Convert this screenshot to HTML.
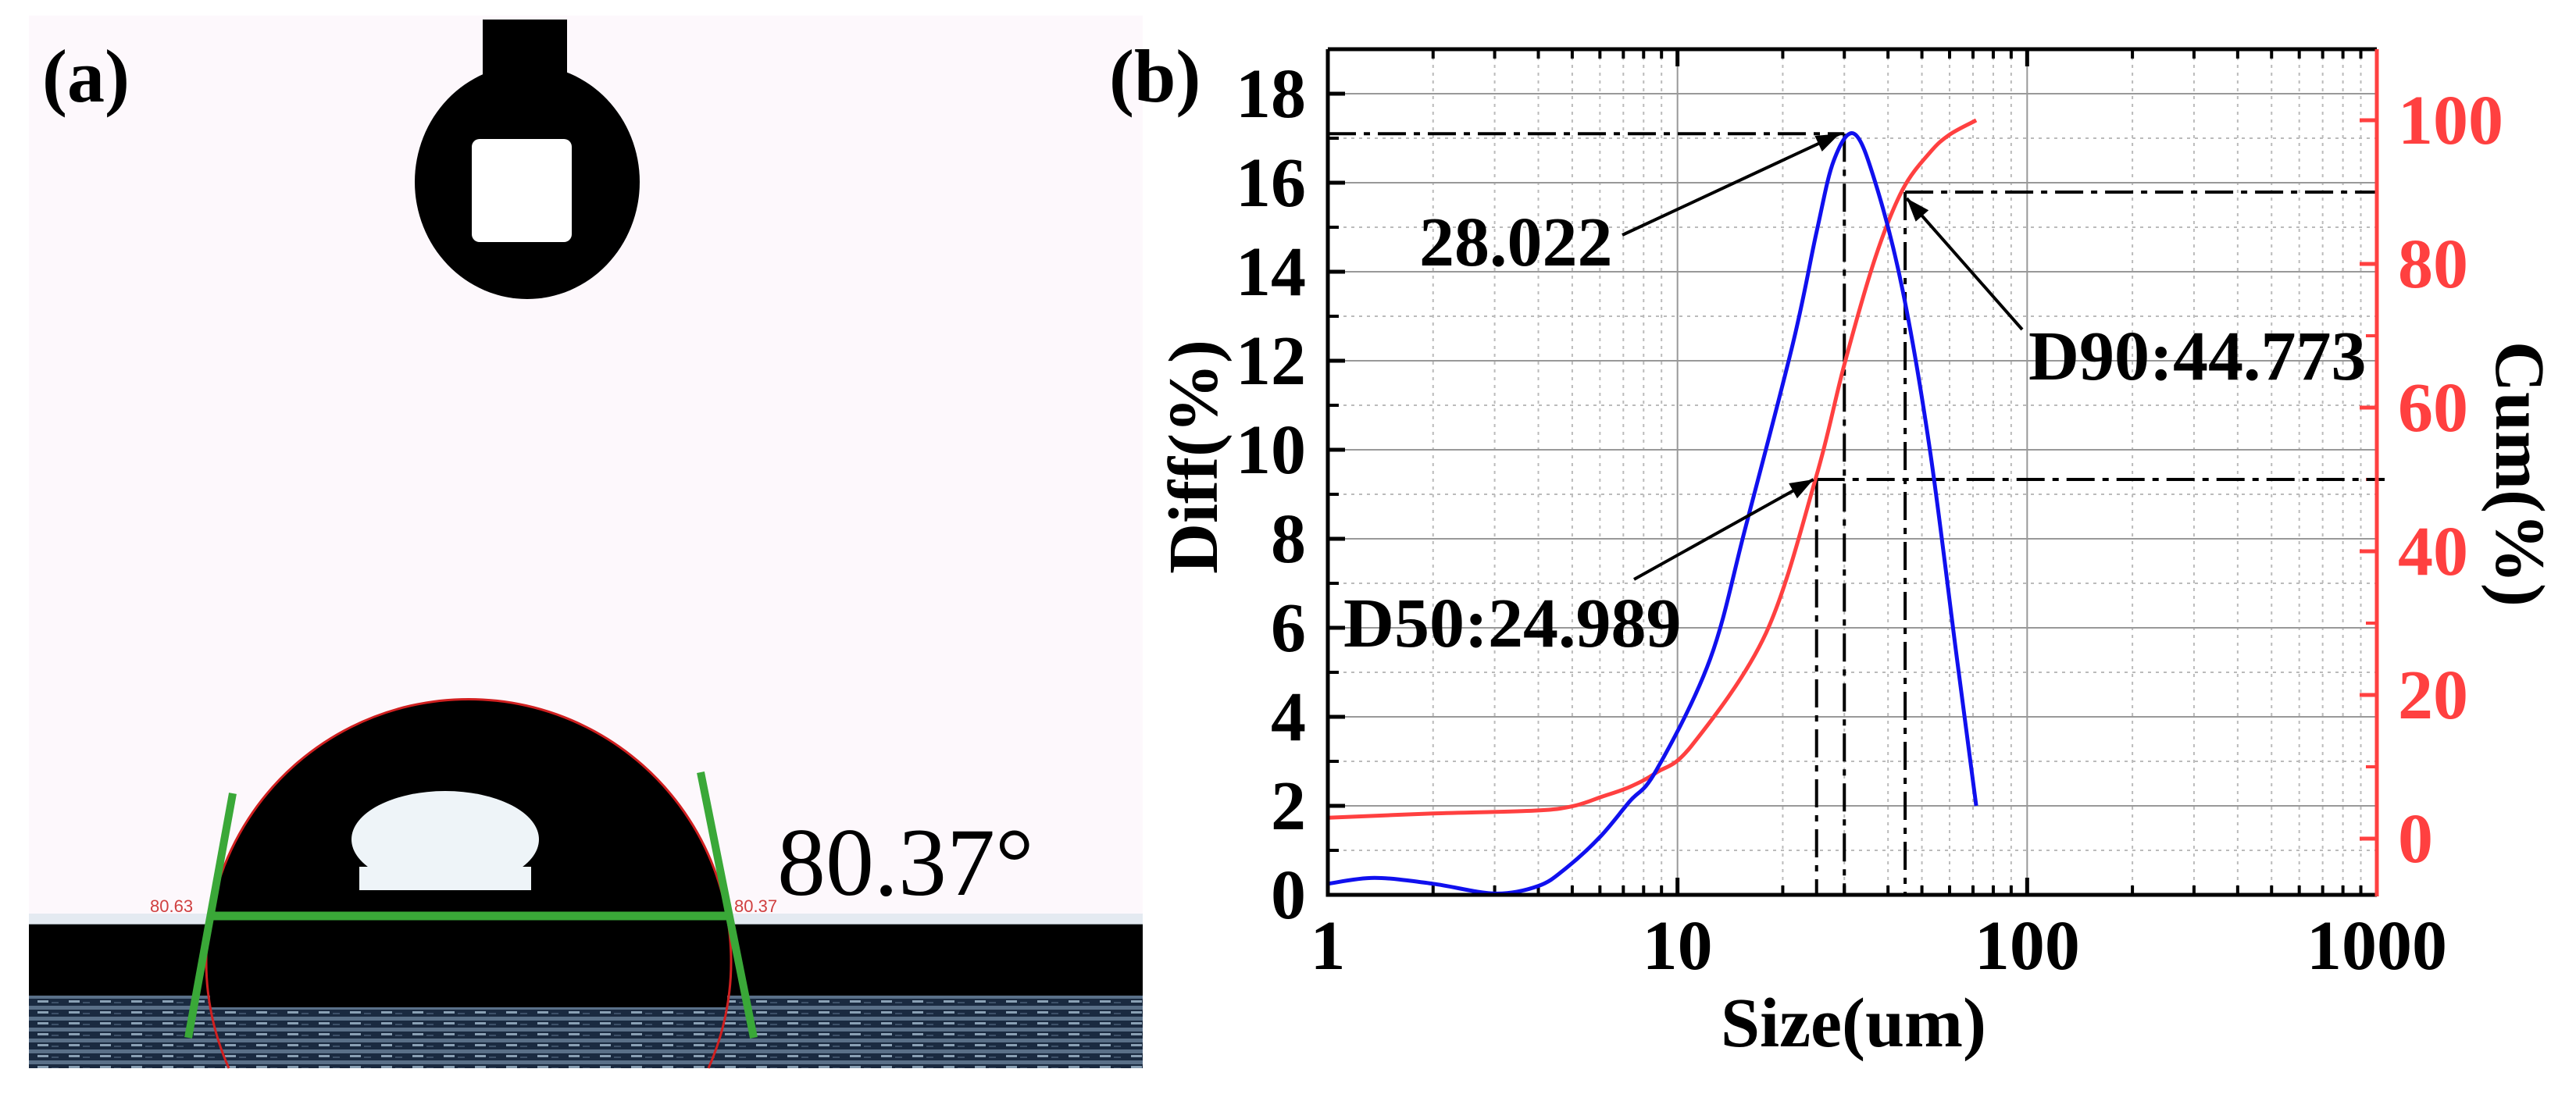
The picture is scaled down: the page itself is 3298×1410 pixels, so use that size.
<!DOCTYPE html>
<html><head><meta charset="utf-8"><style>
html,body{margin:0;padding:0;background:#fff;width:3298px;height:1410px;overflow:hidden;}
svg{display:block;font-family:"Liberation Serif",serif;}
</style></head><body>
<svg id="root" width="3298" height="1410" viewBox="0 0 3298 1410" xmlns="http://www.w3.org/2000/svg">
<defs>
<pattern id="tex" width="40" height="14" patternUnits="userSpaceOnUse">
<rect width="40" height="14" fill="#1a2a40"/>
<rect x="0" y="0" width="40" height="5" fill="#5a7088"/>
<rect x="8" y="7" width="14" height="3" fill="#8aa0b4"/>
<rect x="26" y="9" width="9" height="2" fill="#3d5068"/>
</pattern>
</defs>
<g>
<rect x="37" y="20" width="1426" height="1348" fill="#fdf8fc"/>
<rect x="618" y="25" width="108" height="70" fill="#000"/>
<ellipse cx="675" cy="233" rx="144" ry="150" fill="#000"/>
<rect x="604" y="178" width="128" height="132" rx="10" fill="#fff"/>
<rect x="37" y="1270" width="1426" height="98" fill="url(#tex)"/>
<rect x="37" y="1183" width="1426" height="92" fill="#000"/>
<rect x="37" y="1170" width="1426" height="14" fill="#d8e4ec" opacity="0.7"/>
<path d="M269,1173 A336,336 0 0 1 931,1173 L931,1290 L269,1290 Z" fill="#000"/>
<path d="M293,1368 A336,336 0 1 1 907,1368" fill="none" stroke="#d02020" stroke-width="3"/>
<ellipse cx="570" cy="1075" rx="120" ry="62" fill="#eef4f8"/>
<rect x="460" y="1110" width="220" height="30" fill="#eef4f8"/>
<line x1="298" y1="1016" x2="241" y2="1329" stroke="#3aa838" stroke-width="10"/>
<line x1="897" y1="989" x2="965" y2="1329" stroke="#3aa838" stroke-width="10"/>
<line x1="269" y1="1173" x2="935" y2="1173" stroke="#3aa838" stroke-width="11"/>
<text x="192" y="1168" font-family="Liberation Sans,sans-serif" font-size="22" fill="#d04040">80.63</text>
<text x="940" y="1168" font-family="Liberation Sans,sans-serif" font-size="22" fill="#d04040">80.37</text>
<text x="995" y="1146" font-size="124" fill="#000">80.37°</text>
</g>
<text x="54" y="130" font-size="96" font-weight="bold">(a)</text>
<text x="1420" y="130" font-size="96" font-weight="bold">(b)</text>
<g id="chart"></g>
</svg>
<script>
const diffX=[1,1.36,2,3,4,4.8,6,7.3,8.7,12.4,15.7,21.4,25,28,32,36.8,44,52.7,63,71.5];
const diffY=[0.25,0.38,0.25,0.03,0.2,0.6,1.3,2.1,2.8,5.3,8.3,12.4,14.9,16.5,17.1,16.0,13.6,10.0,5.3,2.0];
const cumX=[1,2,3.9,5,6.05,7.3,8.7,11,17.9,24.9,30,36.8,44,52.7,60,71.5];
const cumY=[2.9,3.5,3.9,4.5,5.8,7.2,9.2,13,28.6,50.3,66,80.9,90.3,95.5,98,100];
const diffTicks=[0,2,4,6,8,10,12,14,16,18];
const cumTicks=[0,20,40,60,80,100];
const xTicks=[1,10,100,1000];
const peakX=30, peakY=17.1, d50=24.989, d90=44.773;

const L=1700,R=3043,T=63,B=1146;
const X=v=>L+(Math.log10(v))/3*(R-L);
const Y1=v=>B-(v/19)*(B-T);
const Y2=v=>1074-v*9.2;
const NS="http://www.w3.org/2000/svg";
const g=document.getElementById('chart');
function mk(tag,attrs,parent){const e=document.createElementNS(NS,tag);for(const k in attrs)e.setAttribute(k,attrs[k]);(parent||g).appendChild(e);return e;}

for(let d=0;d<3;d++)for(let m=2;m<10;m++){const x=X(m*Math.pow(10,d));
 const e=mk('line',{x1:x,x2:x,y1:T,y2:B,stroke:'#bbb','stroke-width':2,'stroke-dasharray':'4 6'});
 
 const t=mk('line',{x1:x,x2:x,y1:T,y2:T+12,stroke:'#000','stroke-width':4});
 
 const b=mk('line',{x1:x,x2:x,y1:B,y2:B-12,stroke:'#000','stroke-width':4});
 }
for(let v=1;v<19;v+=2){const y=Y1(v);
 const e=mk('line',{x1:L,x2:R,y1:y,y2:y,stroke:'#bbb','stroke-width':2,'stroke-dasharray':'4 6'});
 
 const t=mk('line',{x1:L,x2:L+14,y1:y,y2:y,stroke:'#000','stroke-width':4});
 }
xTicks.forEach(v=>{const x=X(v);
 const e=mk('line',{x1:x,x2:x,y1:T,y2:B,stroke:'#999','stroke-width':2});
 
 const t=mk('line',{x1:x,x2:x,y1:B,y2:B-22,stroke:'#000','stroke-width':5});
 
 const tt=mk('line',{x1:x,x2:x,y1:T,y2:T+22,stroke:'#000','stroke-width':5});
 
 const l=mk('text',{x:x,y:B+95,'text-anchor':'middle','font-size':90,'font-weight':'bold'});
 l.textContent=String(v);});
diffTicks.forEach(v=>{const y=Y1(v);
 if(v>0){const e=mk('line',{x1:L,x2:R,y1:y,y2:y,stroke:'#999','stroke-width':2});
 }
 const t=mk('line',{x1:L,x2:L+22,y1:y,y2:y,stroke:'#000','stroke-width':5});
 
 const l=mk('text',{x:1672,y:y+30,'text-anchor':'end','font-size':90,'font-weight':'bold'});
 l.textContent=String(v);});
for(let v=-10;v<=110;v+=10){const y=Y2(v);if(y<T||y>B)continue;const maj=cumTicks.includes(v);
 const t=mk('line',{x1:R,x2:R-(maj?22:14),y1:y,y2:y,stroke:'#ff4040','stroke-width':maj?5:4});
 }
cumTicks.forEach(v=>{const y=Y2(v);
 const l=mk('text',{x:3070,y:y+30,'font-size':90,'font-weight':'bold',fill:'#ff4040'});
 l.textContent=String(v);});

function dd(x1,y1,x2,y2,name){const e=mk('line',{x1,y1,x2,y2,stroke:'#000','stroke-width':4,'stroke-dasharray':'36 10 8 10'});
 }
dd(L,Y1(peakY),X(peakX),Y1(peakY),'peak-horizontal-guide');
dd(X(peakX),Y1(peakY),X(peakX),B,'peak-vertical-guide');
dd(X(d50),Y2(50),R+10,Y2(50),'d50-horizontal-guide');
dd(X(d50),Y2(50),X(d50),B,'d50-vertical-guide');
dd(X(d90),Y2(90),R,Y2(90),'d90-horizontal-guide');
dd(X(d90),Y2(90),X(d90),B,'d90-vertical-guide');

function smooth(xs,ys,fy){const p=xs.map((v,i)=>[X(v),fy(ys[i])]);let d='M'+p[0][0].toFixed(1)+','+p[0][1].toFixed(1);
 for(let i=0;i<p.length-1;i++){const p0=p[Math.max(0,i-1)],p1=p[i],p2=p[i+1],p3=p[Math.min(p.length-1,i+2)];
  const c1=[p1[0]+(p2[0]-p0[0])/6,p1[1]+(p2[1]-p0[1])/6],c2=[p2[0]-(p3[0]-p1[0])/6,p2[1]-(p3[1]-p1[1])/6];
  d+=`C${c1[0].toFixed(1)},${c1[1].toFixed(1)} ${c2[0].toFixed(1)},${c2[1].toFixed(1)} ${p2[0].toFixed(1)},${p2[1].toFixed(1)}`;}
 return d;}
const cum=mk('path',{d:smooth(cumX,cumY,Y2),fill:'none',stroke:'#ff4040','stroke-width':5,'stroke-linejoin':'round'});

const diff=mk('path',{d:smooth(diffX,diffY,Y1),fill:'none',stroke:'#1010ee','stroke-width':5,'stroke-linejoin':'round'});


const ax1=mk('path',{d:`M${L},${T}L${L},${B}L${R},${B}M${L},${T}L${R},${T}`,fill:'none',stroke:'#000','stroke-width':5});

const ax2=mk('line',{x1:R,x2:R,y1:T,y2:B+2,stroke:'#ff4040','stroke-width':5});


function arrow(x1,y1,x2,y2,name){const e=mk('line',{x1,y1,x2,y2,stroke:'#000','stroke-width':4});
 
 const a=Math.atan2(y2-y1,x2-x1),s=30,w=11;
 const p=`${x2},${y2} ${x2-s*Math.cos(a)+w*Math.sin(a)},${y2-s*Math.sin(a)-w*Math.cos(a)} ${x2-s*Math.cos(a)-w*Math.sin(a)},${y2-s*Math.sin(a)+w*Math.cos(a)}`;
 const h=mk('polygon',{points:p,fill:'#000'});}
arrow(2077,301,X(peakX)-6,Y1(peakY),'peak-arrow');
arrow(2092,742,X(d50)-4,Y2(50),'d50-arrow');
arrow(2589,422,X(d90)+2,Y2(90)+8,'d90-arrow');
function txt(x,y,s,name,extra){const e=mk('text',Object.assign({x,y,'font-size':90,'font-weight':'bold'},extra||{}));
 e.textContent=s;return e;}
txt(1817,340,'28.022','peak-annotation');
txt(1720,828,'D50:24.989','d50-annotation');
txt(2597,486,'D90:44.773','d90-annotation');
txt(2373,1340,'Size(um)','x-axis-title',{'text-anchor':'middle'});
txt(0,0,'Diff(%)','left-axis-title',{'text-anchor':'middle',transform:'translate(1558,585) rotate(-90)'});
txt(0,0,'Cum(%)','right-axis-title',{'text-anchor':'middle',transform:'translate(3196,607) rotate(90)'});
</script>
</body></html>
